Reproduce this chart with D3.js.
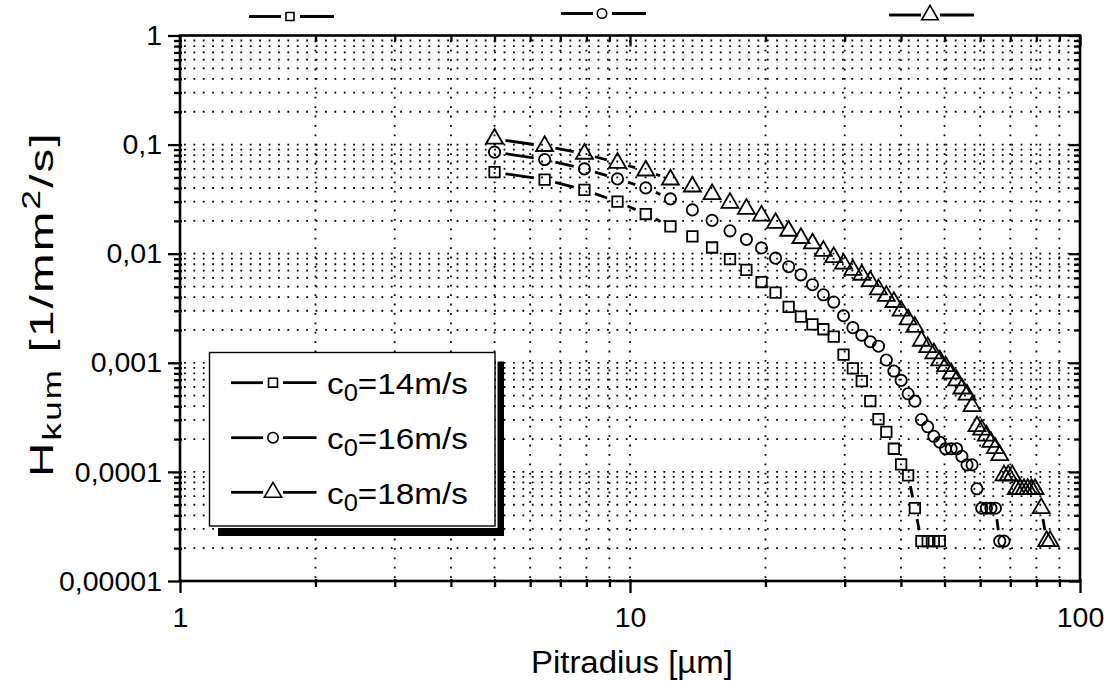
<!DOCTYPE html>
<html><head><meta charset="utf-8">
<script src="https://cdn.jsdelivr.net/npm/d3@7"></script>
<style>
body{margin:0;background:#fff}
svg{display:block}
text{font-family:"Liberation Sans",Arial,sans-serif;fill:#000}
</style>
</head><body>
<svg id="chart" width="1107" height="681"></svg>
<script>
// ---------- data ----------
const radius14 = [5,6.46,7.92,9.38,10.84,12.3,13.76,15.22,16.68,18.14,19.6,21.06,22.52,23.98,25.44,26.9,28.36,29.82,31.28,32.74,34.2,35.66,37.12,38.58,40.04,41.5,42.96,44.42,45.88,47.34,48.8];
const hkum14 = [0.0559,0.0478,0.0384,0.0300,0.0231,0.0178,0.0144,0.0114,0.0089,0.0071,0.0055,0.0044,0.00325,0.00265,0.00225,0.00203,0.00174,0.00119,0.00089,0.00068,0.000445,0.000305,0.000233,0.000163,0.000117,0.000093,0.0000465,0.0000232,0.0000232,0.0000232,0.0000232];

const radius16 = [5,6.46,7.92,9.38,10.84,12.3,13.76,15.22,16.68,18.14,19.6,21.06,22.52,23.98,25.44,26.9,28.36,29.82,31.28,32.74,34.2,35.66,37.12,38.58,40.04,41.5,42.96,44.42,45.88,47.34,48.8,50.26,51.72,53.18,54.64,56.1,57.56,59.02,60.48,61.94,63.4,64.86,66.32,67.78];
const hkum16 = [0.0853,0.0730,0.0599,0.0485,0.0401,0.0318,0.0252,0.0202,0.0162,0.0135,0.0113,0.0091,0.0076,0.0064,0.0052,0.0042,0.0036,0.0027,0.0021,0.00179,0.00156,0.00142,0.00106,0.00084,0.00069,0.00052,0.000445,0.000302,0.000259,0.000212,0.000187,0.000163,0.000163,0.000163,0.000139,0.000116,0.000116,0.0000700,0.0000465,0.0000465,0.0000465,0.0000465,0.0000232,0.0000232];

const radius18 = [5,6.46,7.92,9.38,10.84,12.3,13.76,15.22,16.68,18.14,19.6,21.06,22.52,23.98,25.44,26.9,28.36,29.82,31.28,32.74,34.2,35.66,37.12,38.58,40.04,41.5,42.96,44.42,45.88,47.34,48.8,50.26,51.72,53.18,54.64,56.1,57.56,59.02,60.48,61.94,63.4,64.86,66.32,67.78,69.24,70.7,72.16,73.62,75.08,76.54,78.0,79.46,82.0,84.3,85.8];
const hkum18 = [0.113,0.0969,0.0823,0.068,0.0578,0.0478,0.0412,0.0351,0.0292,0.0257,0.0223,0.0191,0.0162,0.0139,0.0124,0.0106,0.0093,0.0081,0.0071,0.0064,0.0056,0.0047,0.0041,0.0036,0.0030,0.0025,0.00213,0.00159,0.00139,0.00122,0.00105,0.00093,0.00080,0.00069,0.00058,0.00051,0.00040,0.000262,0.000244,0.000215,0.000188,0.000165,0.000142,0.0000928,0.0000928,0.0000928,0.0000696,0.0000696,0.0000696,0.0000696,0.0000696,0.0000696,0.0000465,0.0000232,0.0000232];

const seriesSpeeds = ["14","16","18"];
const xTickValues = [1,10,100];
const xTickLabels = ["1","10","100"];
const yTickValues = [1,0.1,0.01,0.001,0.0001,0.00001];
const yTickLabels = ["1","0,1","0,01","0,001","0,0001","0,00001"];
const xTitle = "Pitradius [µm]";

// ---------- setup ----------
const svg = d3.select("#chart");
const L=180, R=1080, T=35.5, B=581;
const x = d3.scaleLog().domain([1,100]).range([L,R]);
const y = d3.scaleLog().domain([1e-5,1]).range([B,T]);

const xMinor = [], yMinor = [];
for (let e=0;e<2;e++) for (let k=2;k<=9;k++) xMinor.push(k*Math.pow(10,e));
for (let e=-5;e<0;e++) for (let k=2;k<=9;k++) yMinor.push(+(k*Math.pow(10,e)).toPrecision(3));

// ---------- grid ----------
const grid = svg.append("g").attr("stroke","#000").attr("stroke-width",1.8).attr("stroke-dasharray","1.8 7.6");
grid.selectAll(".gv").data(xMinor.concat([10])).join("line")
  .attr("x1",d=>x(d)).attr("x2",d=>x(d)).attr("y1",B-3).attr("y2",T+2);
grid.selectAll(".gh").data(yMinor.concat([0.1,0.01,0.001,0.0001])).join("line")
  .attr("y1",d=>y(d)).attr("y2",d=>y(d)).attr("x1",L+4).attr("x2",R-2);

// ---------- axes ----------
function styleAxis(g){ g.select(".domain").remove(); g.selectAll("line").attr("stroke","#000").attr("stroke-width",2.3); }

svg.append("g").attr("transform",`translate(0,${B})`)
  .call(d3.axisBottom(x).tickValues(xTickValues).tickSize(12).tickPadding(14).tickFormat((d,i)=>xTickLabels[i]))
  .call(styleAxis).call(g=>g.selectAll("line").attr("y1",-2))
  .call(g=>g.selectAll("text").attr("font-size",28.5).attr("font-family","Liberation Sans, Arial"));
svg.append("g").attr("transform",`translate(0,${B})`)
  .call(d3.axisBottom(x).tickValues(xMinor).tickSize(6).tickFormat(""))
  .call(styleAxis).call(g=>g.selectAll("line").attr("y1",-2));

svg.append("g").attr("transform",`translate(${L},0)`)
  .call(d3.axisLeft(y).tickValues(yTickValues).tickSize(12).tickPadding(6).tickFormat((d,i)=>yTickLabels[i]))
  .call(styleAxis).call(g=>g.selectAll("line").attr("x1",2))
  .call(g=>g.selectAll("text").attr("font-size",28.5).attr("font-family","Liberation Sans, Arial"));
svg.append("g").attr("transform",`translate(${L},0)`)
  .call(d3.axisLeft(y).tickValues(yMinor).tickSize(6).tickFormat(""))
  .call(styleAxis).call(g=>g.selectAll("line").attr("x1",2));

svg.append("g").attr("transform",`translate(0,${T})`)
  .call(d3.axisBottom(x).tickValues(xTickValues).tickSize(11).tickFormat("")).call(styleAxis);
svg.append("g").attr("transform",`translate(0,${T})`)
  .call(d3.axisBottom(x).tickValues(xMinor).tickSize(6).tickFormat("")).call(styleAxis);
svg.append("g").attr("transform",`translate(${R},0)`)
  .call(d3.axisLeft(y).tickValues(yTickValues).tickSize(11).tickFormat("")).call(styleAxis);
svg.append("g").attr("transform",`translate(${R},0)`)
  .call(d3.axisLeft(y).tickValues(yMinor).tickSize(6).tickFormat("")).call(styleAxis);

svg.append("rect").attr("x",L).attr("y",T).attr("width",R-L).attr("height",B-T)
  .attr("fill","none").attr("stroke","#000").attr("stroke-width",2.6);

// ---------- series ----------
const symbols = [d3.symbolSquare, d3.symbolCircle, d3.symbolTriangle];
const symSizes = [110, 100, 125];
const radii = [radius14, radius16, radius18];
const hkums = [hkum14, hkum16, hkum18];
const GAP = 11;

function gapSegments(pts){
  const segs=[];
  for(let i=0;i<pts.length-1;i++){
    const [x1,y1]=pts[i],[x2,y2]=pts[i+1];
    const dx=x2-x1, dy=y2-y1, d=Math.hypot(dx,dy);
    if(d>2*GAP+4){const ux=dx/d, uy=dy/d; segs.push([x1+ux*GAP,y1+uy*GAP,x2-ux*GAP,y2-uy*GAP]);}
  }
  return segs;
}

radii.forEach((rs,si)=>{
  const pts = rs.map((r,i)=>[x(r), y(hkums[si][i])]);
  const g = svg.append("g");
  g.selectAll("line").data(gapSegments(pts)).join("line")
    .attr("x1",d=>d[0]).attr("y1",d=>d[1]).attr("x2",d=>d[2]).attr("y2",d=>d[3])
    .attr("stroke","#000").attr("stroke-width",2.8);
  g.selectAll("path").data(pts).join("path")
    .attr("d", d3.symbol().type(symbols[si]).size(symSizes[si]))
    .attr("transform",d=>`translate(${d[0]},${d[1]})`)
    .attr("fill","none").attr("stroke","#000").attr("stroke-width",1.8);
});

// ---------- top layer markers ----------
const topMarks = [{cx:290, cy:16.5, s:0, sz:64},{cx:602, cy:13.5, s:1, sz:70},{cx:930, cy:15, s:2, sz:120}];
topMarks.forEach(m=>{
  svg.append("line").attr("x1",m.cx-41).attr("x2",m.cx-9).attr("y1",m.cy).attr("y2",m.cy).attr("stroke","#000").attr("stroke-width",2.9);
  svg.append("line").attr("x1",m.cx+10).attr("x2",m.cx+44).attr("y1",m.cy).attr("y2",m.cy).attr("stroke","#000").attr("stroke-width",2.9);
  svg.append("path").attr("d",d3.symbol().type(symbols[m.s]).size(m.sz)).attr("transform",`translate(${m.cx},${m.cy})`)
    .attr("fill","none").attr("stroke","#000").attr("stroke-width",1.6);
});

// ---------- legend ----------
const lg = svg.append("g");
lg.append("rect").attr("x",497.5).attr("y",361.5).attr("width",6.5).attr("height",174.5).attr("fill","#000");
lg.append("rect").attr("x",218).attr("y",528).attr("width",286).attr("height",8).attr("fill","#000");
lg.append("rect").attr("x",209.5).attr("y",352.5).attr("width",285.5).attr("height",173.5)
  .attr("fill","#fff").attr("stroke","#000").attr("stroke-width",1.4);
const rowY = [382.7, 437.7, 492.3];
const legSizes = [80, 85, 130];
// widen a start-anchored text (in its own frame) about x0 to a target length
function stretch(sel, x0, target, sx){
  const n = sel.text().length;
  if (sx){
    const w0 = sel.node().getComputedTextLength();
    const ls = Math.max(0,(target/sx - w0)/n);
    sel.attr("letter-spacing", ls);
  }
  const w = sel.node().getBBox().width;
  const s = target / w;
  sel.attr("transform",`translate(${x0},0) scale(${s},1) translate(${-x0},0)`);
}
seriesSpeeds.forEach((sp,i)=>{
  const cy=rowY[i];
  lg.append("line").attr("x1",231).attr("x2",263).attr("y1",cy).attr("y2",cy).attr("stroke","#000").attr("stroke-width",2.8);
  lg.append("line").attr("x1",283).attr("x2",316.5).attr("y1",cy).attr("y2",cy).attr("stroke","#000").attr("stroke-width",2.8);
  lg.append("path").attr("d",d3.symbol().type(symbols[i]).size(legSizes[i])).attr("transform",`translate(273,${cy})`)
    .attr("fill","none").attr("stroke","#000").attr("stroke-width",1.6);
  const t = lg.append("text").attr("x",327).attr("y",cy+11.5).attr("font-size",30);
  t.append("tspan").text("c");
  t.append("tspan").attr("font-size",23).attr("dy",7).text("0");
  t.append("tspan").attr("dy",-7).text("=" + sp + "m/s");
  stretch(t, 327, 141);
});

// ---------- titles ----------
const xt = svg.append("text").attr("x",531).attr("y",673).attr("font-size",31).text(xTitle);
stretch(xt, 531, 202);

const yg = svg.append("g").attr("transform","translate(53,304) rotate(-90)");
const yt = yg.append("text").attr("x",-173).attr("y",0).attr("font-size",34);
yt.append("tspan").text("H");
yt.append("tspan").attr("font-size",25).attr("dy",8).text("kum");
yt.append("tspan").attr("dy",-8).text(" [1/mm");
yt.append("tspan").attr("font-size",25).attr("dy",-13).text("2");
yt.append("tspan").attr("dy",13).text("/s]");
stretch(yt, -173, 346, 1.4);
</script>
</body></html>
